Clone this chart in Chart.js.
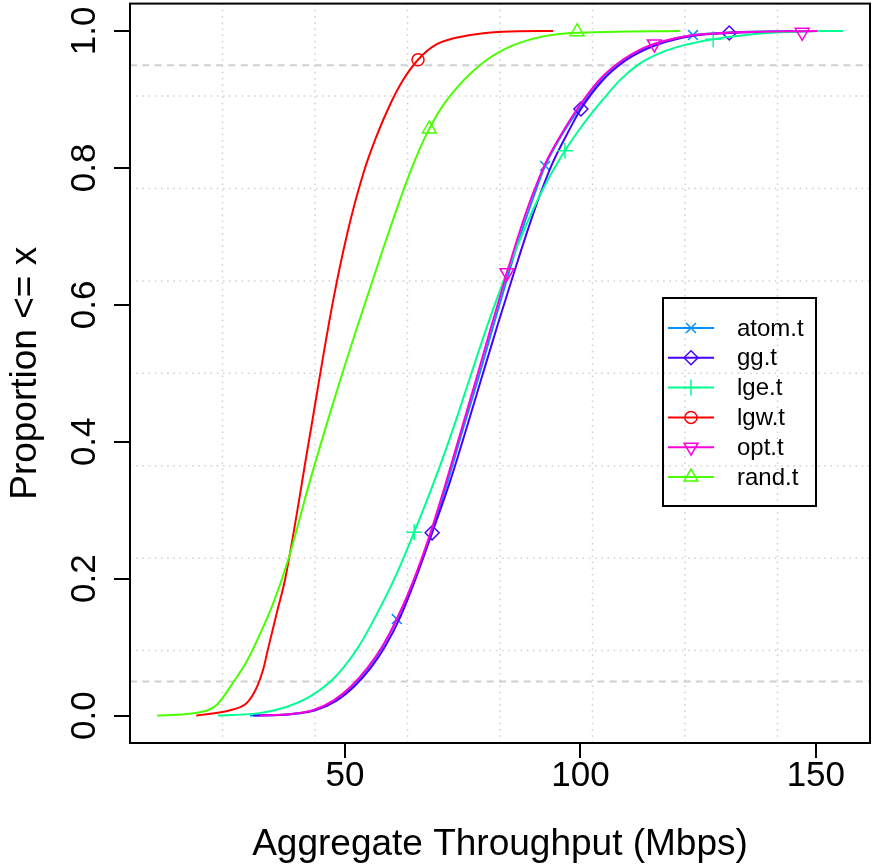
<!DOCTYPE html>
<html>
<head>
<meta charset="utf-8">
<script src="https://cdn.jsdelivr.net/npm/chart.js@4/dist/chart.umd.min.js"></script>
<style>
  html, body { margin: 0; padding: 0; background: #ffffff; }
  #ecdf { display: block; }
</style>
</head>
<body>
<canvas id="ecdf" width="872" height="867"></canvas>
<script>
// series names (legend order)
const seriesNames = ['atom.t', 'gg.t', 'lge.t', 'lgw.t', 'opt.t', 'rand.t'];

// ECDF curves: throughput (Mbps) and proportion
const atomX = [29.8, 38.0, 43.3, 47.7, 51.5, 55.0, 58.1, 61.0, 64.5, 68.0, 71.5, 74.9, 78.4, 81.6, 84.8, 87.4, 89.9, 92.5, 96.2, 100.2, 104.6, 109.0, 113.5, 118.0, 123.9, 132.0, 145.0];
const atomY = [0, 0.002, 0.008, 0.022, 0.043, 0.070, 0.102, 0.141, 0.194, 0.260, 0.335, 0.415, 0.495, 0.572, 0.647, 0.705, 0.755, 0.803, 0.850, 0.891, 0.930, 0.957, 0.974, 0.985, 0.994, 0.998, 1.0];

const ggX = [30.5, 38.5, 43.8, 48.2, 52.0, 55.5, 58.6, 61.8, 65.0, 68.5, 72.4, 75.9, 79.3, 82.6, 85.8, 88.5, 91.2, 94.0, 97.2, 100.1, 104.6, 109.2, 113.5, 118.0, 124.0, 131.6, 150.0];
const ggY = [0, 0.002, 0.008, 0.022, 0.043, 0.070, 0.102, 0.145, 0.200, 0.267, 0.344, 0.422, 0.500, 0.575, 0.645, 0.703, 0.757, 0.806, 0.850, 0.886, 0.927, 0.955, 0.972, 0.984, 0.993, 0.997, 1.0];

const lgeX = [23.0, 32.0, 37.7, 42.6, 46.8, 50.0, 53.0, 56.5, 60.5, 64.7, 69.1, 73.0, 76.6, 80.5, 84.5, 88.7, 92.5, 96.7, 100.5, 104.8, 108.5, 112.5, 117.0, 121.8, 128.2, 136.1, 145.0, 155.8];
const lgeY = [0, 0.004, 0.013, 0.028, 0.049, 0.073, 0.102, 0.145, 0.200, 0.268, 0.345, 0.420, 0.495, 0.575, 0.650, 0.720, 0.775, 0.825, 0.863, 0.900, 0.929, 0.952, 0.968, 0.979, 0.988, 0.995, 0.999, 1.0];

const lgwX = [18.4, 26.2, 29.2, 31.3, 32.6, 33.6, 35.5, 37.3, 42.3, 47.3, 50.5, 53.8, 56.5, 59.6, 62.3, 65.5, 69.6, 76.6, 83.5, 94.2];
const lgwY = [0, 0.009, 0.019, 0.042, 0.067, 0.096, 0.150, 0.200, 0.400, 0.600, 0.705, 0.790, 0.843, 0.893, 0.928, 0.958, 0.981, 0.994, 0.999, 1.0];

const optX = [31.9, 38.0, 43.2, 47.5, 51.3, 54.8, 58.0, 61.0, 64.4, 67.8, 71.2, 74.6, 78.0, 81.2, 84.4, 87.0, 89.5, 92.5, 96.0, 100.0, 104.5, 109.0, 113.0, 117.5, 123.0, 133.0, 150.3];
const optY = [0, 0.002, 0.008, 0.022, 0.043, 0.070, 0.102, 0.141, 0.195, 0.260, 0.335, 0.415, 0.495, 0.572, 0.647, 0.705, 0.755, 0.806, 0.850, 0.893, 0.932, 0.958, 0.974, 0.985, 0.993, 0.998, 1.0];

const randX = [10.1, 19.9, 22.8, 26.2, 29.2, 32.0, 34.8, 37.9, 42.6, 47.4, 52.6, 57.8, 62.8, 66.0, 67.9, 70.5, 73.5, 77.0, 81.0, 87.2, 97.8, 121.2];
const randY = [0, 0.006, 0.016, 0.048, 0.080, 0.120, 0.165, 0.227, 0.344, 0.455, 0.568, 0.676, 0.775, 0.830, 0.857, 0.888, 0.915, 0.940, 0.962, 0.983, 0.997, 1.0];

// marker positions on each curve
const atomMarkX = [61.0, 92.5, 123.9];
const atomMarkY = [0.141, 0.803, 0.994];
const ggMarkX = [68.5, 100.1, 131.6];
const ggMarkY = [0.267, 0.886, 0.997];
const lgeMarkX = [64.7, 96.7, 128.2];
const lgeMarkY = [0.268, 0.825, 0.988];
const lgwMarkX = [65.5];
const lgwMarkY = [0.958];
const optMarkX = [84.4, 115.7, 147.1];
const optMarkY = [0.647, 0.981, 0.998];
const randMarkX = [67.9, 99.3];
const randMarkY = [0.857, 0.999];

// axes
const xTicks = [50, 100, 150];
const yTicks = [0, 0.2, 0.4, 0.6, 0.8, 1.0];
const yTickLabels = ['0.0', '0.2', '0.4', '0.6', '0.8', '1.0'];
const refLines = [0.05, 0.95];

const colors = ['#0092FF', '#4900FF', '#00FF92', '#FF0000', '#FF00DB', '#49FF00'];
const markers = [
  { style: 'crossRot', rot: 0, r: 7 },
  { style: 'rectRot', rot: 0, r: 7 },
  { style: 'cross', rot: 0, r: 8 },
  { style: 'circle', rot: 0, r: 6 },
  { style: 'triangle', rot: 180, r: 8 },
  { style: 'triangle', rot: 0, r: 8 }
];

const FONT = "'Liberation Sans', Arial, Helvetica, sans-serif";

const curves = [[atomX, atomY], [ggX, ggY], [lgeX, lgeY], [lgwX, lgwY], [optX, optY], [randX, randY]];
const marks = [[atomMarkX, atomMarkY], [ggMarkX, ggMarkY], [lgeMarkX, lgeMarkY], [lgwMarkX, lgwMarkY], [optMarkX, optMarkY], [randMarkX, randMarkY]];

const pairs = (xs, ys) => xs.map((x, i) => ({ x: x, y: ys[i] }));

const datasets = [];
seriesNames.forEach((name, i) => {
  datasets.push({
    label: name,
    data: pairs(curves[i][0], curves[i][1]),
    borderColor: colors[i],
    borderWidth: 2,
    showLine: true,
    pointRadius: 0,
    cubicInterpolationMode: 'monotone',
    order: 20 - 2 * i
  });
  datasets.push({
    label: name + ' markers',
    data: pairs(marks[i][0], marks[i][1]),
    showLine: false,
    borderColor: colors[i],
    backgroundColor: 'rgba(0,0,0,0)',
    pointStyle: markers[i].style,
    pointRotation: markers[i].rot,
    pointRadius: markers[i].r,
    pointBorderWidth: 1.5,
    order: 19 - 2 * i
  });
});

// R-like background: dotted grid (8 divisions) and dashed reference lines
const backdrop = {
  id: 'backdrop',
  beforeDatasetsDraw(chart) {
    const { ctx, chartArea: a, scales: { x, y } } = chart;
    ctx.save();
    ctx.strokeStyle = '#cfcfcf';
    ctx.lineWidth = 1.5;
    ctx.setLineDash([1.5, 4.7]);
    for (let k = 1; k < 8; k++) {
      const gx = x.getPixelForValue(x.min + k * (x.max - x.min) / 8);
      ctx.beginPath(); ctx.moveTo(gx, a.top); ctx.lineTo(gx, a.bottom); ctx.stroke();
      const gy = y.getPixelForValue(y.min + k * (y.max - y.min) / 8);
      ctx.beginPath(); ctx.moveTo(a.left, gy); ctx.lineTo(a.right, gy); ctx.stroke();
    }
    ctx.strokeStyle = '#d0d0d0';
    ctx.lineWidth = 2;
    ctx.setLineDash([7, 5.3]);
    refLines.forEach(v => {
      const py = y.getPixelForValue(v);
      ctx.beginPath(); ctx.moveTo(a.left, py); ctx.lineTo(a.right, py); ctx.stroke();
    });
    ctx.restore();
  }
};

// box, rotated y tick labels and legend
const frame = {
  id: 'frame',
  afterDraw(chart) {
    const { ctx, chartArea: a, scales: { y } } = chart;
    ctx.save();
    ctx.strokeStyle = '#000';
    ctx.lineWidth = 2;
    ctx.strokeRect(a.left, a.top, a.right - a.left, a.bottom - a.top);

    ctx.fillStyle = '#000';
    ctx.font = '35px ' + FONT;
    ctx.textAlign = 'center';
    ctx.textBaseline = 'alphabetic';
    yTicks.forEach((v, i) => {
      const py = y.getPixelForValue(v);
      ctx.save();
      ctx.translate(95, py);
      ctx.rotate(-Math.PI / 2);
      ctx.fillText(yTickLabels[i], 0, 0);
      ctx.restore();
    });

    // legend
    const lx = 663, ly = 298, lw = 153, lh = 208;
    ctx.strokeStyle = '#000';
    ctx.lineWidth = 2;
    ctx.strokeRect(lx, ly, lw, lh);
    ctx.font = '24px ' + FONT;
    ctx.textAlign = 'left';
    ctx.textBaseline = 'middle';
    seriesNames.forEach((name, i) => {
      const ry = ly + 30 + i * 29.8;
      ctx.strokeStyle = colors[i];
      ctx.lineWidth = 2;
      ctx.beginPath(); ctx.moveTo(lx + 5, ry); ctx.lineTo(lx + 51, ry); ctx.stroke();
      ctx.lineWidth = 1.5;
      ctx.fillStyle = 'rgba(0,0,0,0)';
      Chart.helpers.drawPoint(ctx, {
        pointStyle: markers[i].style,
        rotation: markers[i].rot,
        radius: markers[i].r,
        borderWidth: 1.5
      }, lx + 28, ry);
      ctx.fillStyle = '#000';
      ctx.fillText(name, lx + 74, ry + 1);
    });
    ctx.restore();
  }
};

new Chart(document.getElementById('ecdf').getContext('2d'), {
  type: 'scatter',
  data: { datasets: datasets },
  options: {
    responsive: false,
    animation: false,
    layout: { autoPadding: false, padding: { top: 3, right: 2, left: 0, bottom: 0 } },
    plugins: {
      legend: { display: false },
      tooltip: { enabled: false }
    },
    scales: {
      x: {
        type: 'linear',
        min: 4.33,
        max: 161.5,
        afterBuildTicks: s => { s.ticks = xTicks.map(v => ({ value: v })); },
        afterFit: s => { s.height = 124; },
        grid: { drawOnChartArea: false, drawTicks: true, tickLength: 15, color: '#000', lineWidth: 2 },
        border: { display: false },
        ticks: { color: '#000', font: { family: FONT, size: 35 }, padding: -3, maxRotation: 0, autoSkip: false },
        title: { display: true, text: 'Aggregate Throughput (Mbps)', color: '#000', font: { family: FONT, size: 37 }, padding: { top: 0, bottom: 0 } }
      },
      y: {
        type: 'linear',
        min: -0.04,
        max: 1.04,
        afterBuildTicks: s => { s.ticks = yTicks.map(v => ({ value: v })); },
        afterFit: s => { s.width = 130; },
        grid: { drawOnChartArea: false, drawTicks: true, tickLength: 16, color: '#000', lineWidth: 2 },
        border: { display: false },
        ticks: { callback: () => '', font: { size: 1 } },
        title: { display: true, text: 'Proportion <= x', color: '#000', font: { family: FONT, size: 37 }, padding: { top: 4, bottom: 0 } }
      }
    }
  },
  plugins: [backdrop, frame]
});
</script>
</body>
</html>
